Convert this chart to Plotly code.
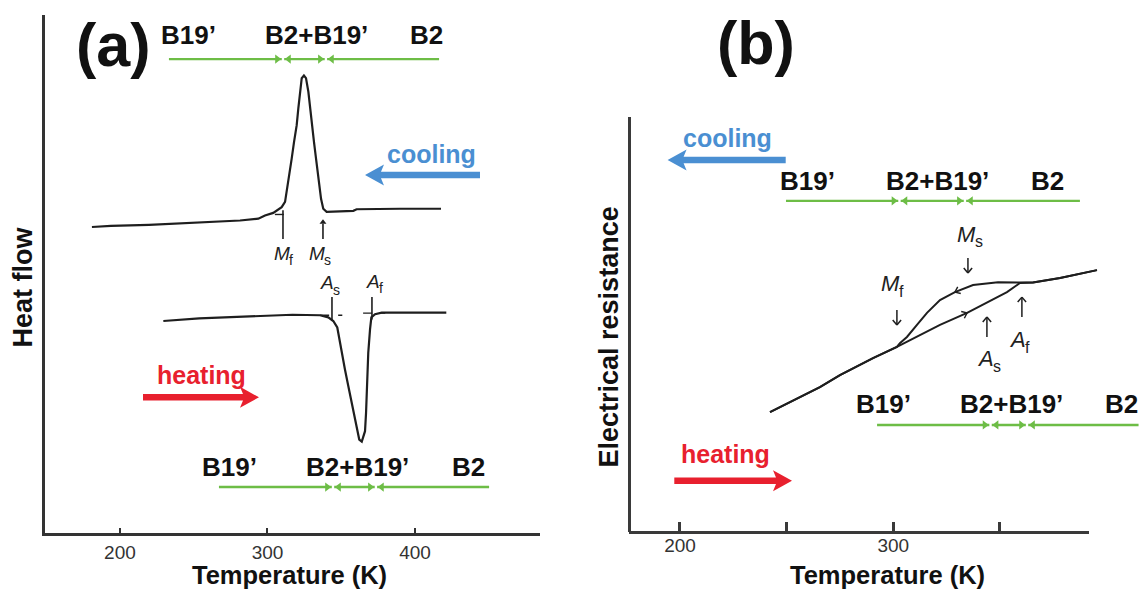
import math
import plotly.graph_objects as go

W, H = 1139, 590
FONT = "Liberation Sans, Arial, Helvetica, sans-serif"
GREEN = "#6dbd46"
BLUE = "#4a8fd2"
RED = "#e8202e"
INK = "#1e1e1e"
AXIS = "#333333"

# ---------------- (a) DSC heat flow (K, arbitrary units) ----------------
dsc_cool_T = [181.0, 193.9, 219.7, 250.8, 281.4, 293.8, 298.3, 303.9, 309.6, 311.9, 313.0,
              314.8, 316.4, 318.0, 319.8, 320.9, 322.0, 323.2, 324.7, 326.1, 327.7, 328.8,
              330.0, 331.5, 332.9, 334.4, 336.3, 337.8, 340.1, 358.2, 360.4, 389.8, 417.6]
dsc_cool_hf = [59.0, 59.2, 59.4, 59.8, 60.25, 60.6, 61.2, 61.7, 62.8, 63.8, 65.7,
               68.9, 72.1, 75.3, 78.5, 81.7, 84.9, 87.5, 88.0, 87.5, 84.9, 81.7,
               78.5, 75.3, 72.1, 68.3, 64.4, 62.5, 61.9, 62.1, 62.4, 62.5, 62.5]

dsc_heat_T = [229.4, 247.6, 253.7, 316.9, 322.0, 335.6, 341.2, 344.6, 347.3, 348.7, 350.3,
              352.5, 354.8, 357.1, 359.3, 360.9, 362.2, 363.9, 364.9, 366.1, 366.8, 367.6,
              368.3, 369.5, 370.4, 372.9, 377.4, 403.4, 421.2]
dsc_heat_hf = [41.0, 41.3, 41.5, 42.2, 42.2, 42.1, 41.7, 41.0, 39.75, 37.5, 34.9,
               31.7, 28.5, 25.3, 22.1, 19.9, 18.3, 17.9, 18.9, 19.9, 23.4, 29.8,
               34.9, 39.4, 41.7, 42.3, 42.6, 42.6, 42.6]

# transformation temperatures from the DSC traces
dsc_Mf, dsc_Ms, dsc_As, dsc_Af = 310.5, 337.6, 343.7, 370.8

# phase-field bars: [bar start, boundary 1, boundary 2, bar end]
dsc_cool_phase_T = [233.2, 310.5, 339.6, 416.3]
dsc_heat_phase_T = [267.1, 344.4, 373.5, 450.2]
phase_names = ["B19’", "B2+B19’", "B2"]

a_ticks = [200, 300, 400]

# ---------------- (b) electrical resistance (K, arbitrary units) ----------------
res_heat_T = [242.2, 265.6, 275.0, 290.5, 301.7, 306.4, 311.1, 321.9, 334.6, 343.9,
              353.3, 359.4, 365.5, 378.2, 387.5, 395.5]
res_heat_R = [28.9, 34.9, 37.8, 41.9, 44.6, 45.8, 47.0, 49.9, 52.8, 55.2,
              57.8, 60.0, 60.1, 61.2, 62.2, 63.1]

res_cool_T = [395.5, 387.5, 378.2, 365.5, 359.4, 349.1, 337.4, 328.9, 321.9, 315.8,
              311.1, 306.4, 303.1, 301.7, 290.5, 275.0, 265.6, 242.2]
res_cool_R = [63.1, 62.2, 61.2, 60.1, 60.2, 60.2, 59.5, 57.8, 55.9, 52.8,
              49.9, 47.0, 45.5, 44.6, 41.9, 37.8, 34.9, 28.9]

res_Mf, res_Ms, res_As, res_Af = 301.7, 335.0, 343.9, 360.3

res_cool_phase_T = [249.7, 302.9, 333.6, 387.5]
res_heat_phase_T = [292.4, 345.6, 362.7, 415.0]

b_ticks = [200, 250, 300, 350]
b_ticktext = ["200", "", "300", ""]

# ---------------- axes geometry (page pixels) ----------------
A_X0, A_X1, A_Y0, A_Y1 = 45, 540, 533, 15
A_TRANGE, A_YRANGE = [149.2, 484.7], [0.4, 99.6]
B_X0, B_X1, B_Y0, B_Y1 = 630.5, 1139, 532, 117
B_TRANGE, B_YRANGE = [176.8, 415.2], [0, 100]

KX_A = (A_X1 - A_X0) / (A_TRANGE[1] - A_TRANGE[0])
KY_A = (A_Y0 - A_Y1) / (A_YRANGE[1] - A_YRANGE[0])
KX_B = (B_X1 - B_X0) / (B_TRANGE[1] - B_TRANGE[0])
KY_B = (B_Y0 - B_Y1) / (B_YRANGE[1] - B_YRANGE[0])

# approximate Arial advance widths (em) for the symbol labels
GLYPH_EM = {"M": 0.833, "A": 0.667, "s": 0.5, "f": 0.278}


def fx(px):
    return px / W


def fy(py):
    return 1 - py / H


fig = go.Figure()


def add_line(xs, ys, xa, ya, color=INK, width=2.0, dash=None):
    fig.add_trace(go.Scatter(x=xs, y=ys, mode="lines",
                             line=dict(color=color, width=width, dash=dash),
                             xaxis=xa, yaxis=ya, showlegend=False, hoverinfo="skip"))


def phase_bar(bounds, y, xa, ya, kx):
    s, b1, b2, e = bounds
    gap = 1.2 / kx          # small gap between facing heads
    tip = 4.6 / kx          # triangle marker tip offset from its centre
    add_line([s, b1 - gap, None, b1 + gap, b2 - gap, None, b2 + gap, e],
             [y, y, None, y, y, None, y, y], xa, ya, color=GREEN, width=2.4)
    fig.add_trace(go.Scatter(
        x=[b1 - gap - tip, b1 + gap + tip, b2 - gap - tip, b2 + gap + tip], y=[y] * 4,
        mode="markers", xaxis=xa, yaxis=ya, showlegend=False, hoverinfo="skip",
        marker=dict(symbol=["triangle-right", "triangle-left", "triangle-right",
                            "triangle-left"], size=8, color=GREEN, line=dict(width=0))))


def chevron(T, R, dx_px, dy_px, kx, ky, arm=6.0, spread=38):
    """Open arrowhead at (T, R) pointing along the page-pixel direction (dx, dy)."""
    ang = math.atan2(dy_px, dx_px)
    xs, ys = [], []
    for sgn in (-1, 1):
        a = ang + math.pi + sgn * math.radians(spread)
        xs += [T + arm * math.cos(a) / kx, T, None]
        ys += [R - arm * math.sin(a) / ky, R, None]
    return xs, ys


def phase_labels(xs, y, xr, yr):
    return [dict(x=x, y=y, xref=xr, yref=yr, text=n, showarrow=False,
                 font=dict(family=FONT, size=26, color="#111111", weight="bold"),
                 xanchor="center", yanchor="middle")
            for x, n in zip(xs, phase_names)]


def symbol_label(T, y, letter, sub, xr, yr, size):
    """Italic letter with a subscript, centred on (T, y)."""
    sub_size = round(size * 0.72)
    w_main = GLYPH_EM[letter] * size
    w_sub = GLYPH_EM[sub] * sub_size
    join = (w_main - w_sub) / 2   # offset of the letter/subscript joint from centre
    col = "#222222"
    box = dict(borderpad=0, borderwidth=0, showarrow=False, xref=xr, yref=yr)
    return [
        dict(x=T, y=y, text=letter, xanchor="right", yanchor="middle", xshift=join + 1,
             font=dict(family=FONT, size=size, color=col, style="italic"), **box),
        dict(x=T, y=y, text=sub, xanchor="left", yanchor="middle", xshift=join,
             yshift=-0.36 * size, font=dict(family=FONT, size=sub_size, color=col), **box),
    ]


def big_arrow(tail_px, tip_px, y_px, color):
    # filled block arrow drawn in page coordinates
    d = 1 if tip_px > tail_px else -1
    sh, hl, hh, notch = 3.3, 19, 10.5, 3
    pts = [(tip_px, y_px),
           (tip_px - d * hl, y_px - hh),
           (tip_px - d * (hl - notch), y_px - sh),
           (tail_px, y_px - sh),
           (tail_px, y_px + sh),
           (tip_px - d * (hl - notch), y_px + sh),
           (tip_px - d * hl, y_px + hh)]
    path = "M " + " L ".join(f"{fx(a):.5f},{fy(b):.5f}" for a, b in pts) + " Z"
    return dict(type="path", xref="paper", yref="paper", path=path,
                fillcolor=color, line=dict(width=0))


def paper_text(text, px, py, size, color="#111111", angle=0):
    return dict(x=fx(px), y=fy(py), xref="paper", yref="paper", text=text,
                showarrow=False, textangle=angle, xanchor="center", yanchor="middle",
                borderpad=0, borderwidth=0,
                font=dict(family=FONT, size=size, color=color, weight="bold"))


# ---- (a) DSC curves ----
add_line(dsc_cool_T, dsc_cool_hf, "x", "y", width=2.2)
add_line(dsc_heat_T, dsc_heat_hf, "x", "y", width=2.2)

# onset / finish construction marks
for T, y0, y1 in [(dsc_Mf, 56.7, 62.2), (dsc_As, 41.0, 45.6), (dsc_Af, 41.3, 45.6)]:
    add_line([T, T], [y0, y1], "x", "y", width=1.6)
for T0, T1, y in [(dsc_Mf - 5.5, dsc_Mf + 5.5, 61.4), (dsc_As - 8, dsc_As + 7, 42.1),
                  (dsc_Af - 6, dsc_Af + 9, 42.5)]:
    add_line([T0, T1], [y, y], "x", "y", width=1.4, dash="dash")
# Ms pointer
add_line([dsc_Ms, dsc_Ms], [56.7, 59.6], "x", "y", width=1.6)
fig.add_trace(go.Scatter(x=[dsc_Ms], y=[59.9], mode="markers", xaxis="x", yaxis="y",
                         showlegend=False, hoverinfo="skip",
                         marker=dict(symbol="triangle-up", size=6, color=INK)))

# ---- (b) resistance loop ----
add_line(res_heat_T, res_heat_R, "x2", "y2", width=2.0)
add_line(res_cool_T, res_cool_R, "x2", "y2", width=2.0)

# Ms, Mf (down) and As, Af (up) pointers
pxs, pys = [], []
for T, tip, tail in [(res_Ms, 62.4, 66.0), (res_Mf, 49.9, 53.5),
                     (res_As, 51.8, 47.0), (res_Af, 56.6, 51.8)]:
    pxs += [T, T, None]
    pys += [tail, tip, None]
    cx, cy = chevron(T, tip, 0, -1 if tip > tail else 1, KX_B, KY_B, arm=6.5, spread=40)
    pxs += cx
    pys += cy
add_line(pxs, pys, "x2", "y2", width=1.5)

# direction marks on the two branches, oriented along the measured curves
i = 7
dcx, dcy = chevron(res_cool_T[i], res_cool_R[i],
                   (res_cool_T[i + 1] - res_cool_T[i - 1]) * KX_B,
                   -(res_cool_R[i + 1] - res_cool_R[i - 1]) * KY_B, KX_B, KY_B)
j = 8
dhx, dhy = chevron(res_heat_T[j], res_heat_R[j],
                   (res_heat_T[j + 1] - res_heat_T[j - 1]) * KX_B,
                   -(res_heat_R[j + 1] - res_heat_R[j - 1]) * KY_B, KX_B, KY_B)
add_line(dcx + dhx, dcy + dhy, "x2", "y2", width=1.4)

# ---- phase-field bars ----
phase_bar(dsc_cool_phase_T, 91.15, "x", "y", KX_A)
phase_bar(dsc_heat_phase_T, 9.2, "x", "y", KX_A)
phase_bar(res_cool_phase_T, 79.8, "x2", "y2", KX_B)
phase_bar(res_heat_phase_T, 25.8, "x2", "y2", KX_B)

ann = []
ann += phase_labels([246.3, 333.4, 408.1], 95.7, "x", "y")
ann += phase_labels([274.2, 361.1, 435.9], 13.0, "x", "y")
ann += phase_labels([260.0, 320.5, 372.5], 84.5, "x2", "y2")
ann += phase_labels([295.2, 355.6, 407.2], 30.8, "x2", "y2")

for T, y, L, s in [(310.5, 54.0, "M", "f"), (335.6, 54.0, "M", "s"),
                   (342.4, 48.3, "A", "s"), (372.9, 48.6, "A", "f")]:
    ann += symbol_label(T, y, L, s, "x", "y", 19)

for T, y, L, s in [(336.0, 71.8, "M", "s"), (299.4, 59.8, "M", "f"),
                   (345.3, 41.9, "A", "s"), (359.4, 46.3, "A", "f")]:
    ann += symbol_label(T, y, L, s, "x2", "y2", 22)

# panel letters, process labels, axis titles
ann.append(paper_text("(a)", 113, 45, 61))
ann.append(paper_text("(b)", 756, 43, 61))
ann.append(paper_text("cooling", 431, 154, 25, BLUE))
ann.append(paper_text("heating", 201, 375, 25, RED))
ann.append(paper_text("cooling", 727, 137.5, 25, BLUE))
ann.append(paper_text("heating", 725, 453.5, 25, RED))
ann.append(paper_text("Temperature (K)", 289, 575, 25.5))
ann.append(paper_text("Temperature (K)", 887.5, 575, 25.5))
ann.append(paper_text("Heat flow", 22, 287.5, 27, angle=-90))
ann.append(paper_text("Electrical resistance", 608, 337.5, 27, angle=-90))

shapes = [
    big_arrow(480, 365, 175, BLUE),
    big_arrow(143, 259, 397.3, RED),
    big_arrow(785.7, 667.6, 160, BLUE),
    big_arrow(674.3, 792, 480.7, RED),
    # bottom axis line of (b), which stops short of the page edge
    dict(type="line", xref="paper", yref="paper", x0=fx(629), x1=fx(1089),
         y0=fy(532.5), y1=fy(532.5), line=dict(color="#3a3a3a", width=3)),
]

tickfont = dict(family=FONT, size=19, color="#333333")
fig.update_layout(
    width=W, height=H, margin=dict(l=0, r=0, t=0, b=0),
    paper_bgcolor="white", plot_bgcolor="white", showlegend=False,
    annotations=ann, shapes=shapes,
    xaxis=dict(domain=[fx(A_X0), fx(A_X1)], range=A_TRANGE, anchor="y",
               showline=True, linewidth=3.2, linecolor=AXIS, mirror=False,
               ticks="inside", ticklen=5, tickwidth=2, tickcolor=AXIS,
               tickvals=a_ticks, tickfont=tickfont, showgrid=False, zeroline=False),
    yaxis=dict(domain=[fy(A_Y0), fy(A_Y1)], range=A_YRANGE, anchor="x",
               showline=True, linewidth=3.2, linecolor=AXIS, mirror=False,
               ticks="", showticklabels=False, showgrid=False, zeroline=False),
    xaxis2=dict(domain=[fx(B_X0), fx(B_X1)], range=B_TRANGE, anchor="y2",
                showline=False, ticks="inside", ticklen=10, tickwidth=2.5,
                tickcolor="#3a3a3a", tickvals=b_ticks, ticktext=b_ticktext,
                tickfont=tickfont, showgrid=False, zeroline=False),
    yaxis2=dict(domain=[fy(B_Y0), fy(B_Y1)], range=B_YRANGE, anchor="x2",
                showline=True, linewidth=3, linecolor="#3a3a3a", mirror=False,
                ticks="", showticklabels=False, showgrid=False, zeroline=False),
)

fig.write_html("out.html")
